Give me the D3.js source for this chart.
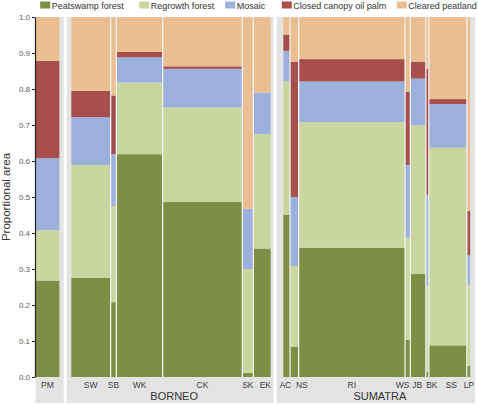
<!DOCTYPE html>
<html><head><meta charset="utf-8">
<script src="https://cdn.jsdelivr.net/npm/d3@7"></script>
<style>body{margin:0;background:#fff;} svg{display:block;font-family:"Liberation Sans",Arial,sans-serif;}</style>
</head><body><svg id="c" width="478" height="404"></svg>
<script>
// ---------------- data ----------------
const classes = ["Peatswamp forest", "Regrowth forest", "Mosaic", "Closed canopy oil palm", "Cleared peatland"];
const regions = ["PM", "BORNEO", "SUMATRA"];
const sites = ["PM","SW","SB","WK","CK","SK","EK","AC","NS","RI","WS","JB","BK","SS","LP"];
const siteRegion = ["PM","BORNEO","BORNEO","BORNEO","BORNEO","BORNEO","BORNEO",
                    "SUMATRA","SUMATRA","SUMATRA","SUMATRA","SUMATRA","SUMATRA","SUMATRA","SUMATRA"];
// relative peatland area of each site (bar width)
const siteArea = [25.2, 40, 5.7, 46.3, 79.7, 11, 18, 7.4, 8.6, 106.4, 5.3, 15.5, 3.0, 38, 4.0];
// proportional area of each class per site
const peatswamp = [0.268, 0.275, 0.208, 0.619, 0.486, 0.011, 0.357, 0.450, 0.084, 0.359, 0.103, 0.286, 0.014, 0.088, 0.031];
const regrowth  = [0.140, 0.314, 0.267, 0.199, 0.263, 0.289, 0.318, 0.372, 0.224, 0.349, 0.284, 0.413, 0.239, 0.549, 0.225];
const mosaic    = [0.200, 0.133, 0.144, 0.070, 0.107, 0.167, 0.115, 0.084, 0.192, 0.113, 0.202, 0.130, 0.253, 0.121, 0.082];
const oilPalm   = [0.270, 0.073, 0.163, 0.015, 0.007, 0.000, 0.000, 0.045, 0.376, 0.062, 0.204, 0.047, 0.350, 0.014, 0.124];
const cleared   = [0.122, 0.205, 0.218, 0.097, 0.137, 0.533, 0.210, 0.049, 0.124, 0.117, 0.207, 0.124, 0.144, 0.228, 0.539];
const yTicks = [0, 0.1, 0.2, 0.3, 0.4, 0.5, 0.6, 0.7, 0.8, 0.9, 1.0];

// ---------------- styles / layout ----------------
const colors = ["#7E8F45", "#C9D6A0", "#9BB1DB", "#A64F4D", "#EABE91"];
const panelLayout = {
  PM:      {x0: 35.5, x1: 63.7, barStart: 35.5},
  BORNEO:  {x0: 66.7, x1: 273.3, barStart: 71.3},
  SUMATRA: {x0: 276.7, x1: 475, barStart: 283.3}
};
const labelNudge = {EK: 3, AC: -1, NS: 7.5, WS: -5, JB: -1, BK: 4.5, SS: 3.5};
const legendTextX = [51.7, 150.7, 236.7, 293.3, 408.3];
const gap = 1.3;

const svg = d3.select("#c");
const y = d3.scaleLinear().domain([0, 1]).range([377, 17]);

const rows = sites.map((s, i) => ({
  site: s, region: siteRegion[i], area: siteArea[i],
  [classes[0]]: peatswamp[i], [classes[1]]: regrowth[i], [classes[2]]: mosaic[i],
  [classes[3]]: oilPalm[i], [classes[4]]: cleared[i]
}));

// x positions per region
const xScales = {};
regions.forEach(r => {
  const rr = rows.filter(d => d.region === r);
  const total = d3.sum(rr, d => d.area);
  const p = panelLayout[r];
  xScales[r] = d3.scaleLinear().domain([0, total]).range([p.barStart, p.barStart + total]);
  let cum = 0;
  rr.forEach(d => { d.c0 = cum; cum += d.area; d.c1 = cum; });
});

// panels
regions.forEach(r => {
  const p = panelLayout[r];
  svg.append("rect").attr("x", p.x0).attr("y", 17).attr("width", p.x1 - p.x0).attr("height", 403 - 17)
    .attr("fill", "#E3E3E3");
  const rr = rows.filter(d => d.region === r);
  const xs = xScales[r];
  svg.append("rect").attr("x", xs(0)).attr("y", y(1)).attr("width", xs(rr[rr.length-1].c1) - xs(0) - gap)
    .attr("height", y(0) - y(1)).attr("fill", "#F1F1F1");
});

const stack = d3.stack().keys(classes).offset(d3.stackOffsetExpand);
const series = stack(rows);

svg.append("g").selectAll("g").data(series).join("g")
  .attr("fill", (d, i) => colors[i])
  .selectAll("rect").data(d => d).join("rect")
  .attr("x", d => xScales[d.data.region](d.data.c0))
  .attr("width", d => Math.max(0, xScales[d.data.region](d.data.c1) - xScales[d.data.region](d.data.c0) - gap))
  .attr("y", d => y(d[1]))
  .attr("height", d => Math.max(0, y(d[0]) - y(d[1])));

// site labels
svg.append("g").selectAll("text").data(rows).join("text")
  .attr("x", d => (xScales[d.region](d.c0) + xScales[d.region](d.c1) - gap) / 2 + (labelNudge[d.site] || 0))
  .attr("y", 387.5)
  .attr("text-anchor", "middle").attr("font-size", 8.5).attr("fill", "#404040")
  .text(d => d.site);

// region labels
["BORNEO", "SUMATRA"].forEach(r => {
  const rr = rows.filter(d => d.region === r);
  const xs = xScales[r];
  svg.append("text").attr("x", (xs(0) + xs(rr[rr.length-1].c1)) / 2 + 2.5).attr("y", 400)
    .attr("text-anchor", "middle").attr("font-size", 11).attr("fill", "#333").text(r);
});

// y axis
const ax = svg.append("g").attr("transform", "translate(35,0)")
  .call(d3.axisLeft(y).tickValues(yTicks).tickFormat(d3.format(".1f")).tickSize(3).tickSizeOuter(0));
ax.select(".domain").attr("stroke", "#222").attr("stroke-width", 1.2);
ax.selectAll(".tick line").attr("stroke", "#222");
ax.selectAll(".tick text").attr("font-size", 8).attr("fill", "#595959").attr("x", -5)
  .attr("font-family", '"Liberation Sans",Arial,sans-serif');

svg.append("text").attr("transform", "translate(10,197) rotate(-90)")
  .attr("text-anchor", "middle").attr("font-size", 11.5).attr("fill", "#333").text("Proportional area");

// legend
const lg = svg.append("g");
classes.forEach((c, i) => {
  lg.append("rect").attr("x", legendTextX[i] - 11.5).attr("y", 1.5).attr("width", 10).attr("height", 7)
    .attr("fill", colors[i]);
  lg.append("text").attr("x", legendTextX[i]).attr("y", 9).attr("font-size", 9).attr("fill", "#333").text(c);
});
</script>
</body></html>
